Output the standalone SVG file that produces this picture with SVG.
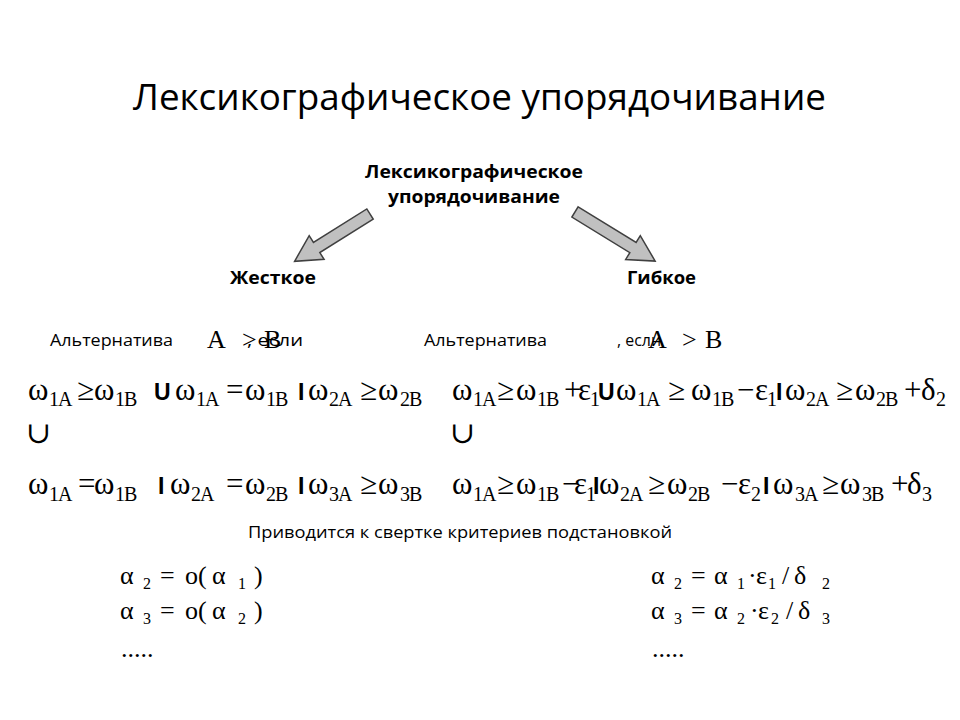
<svg xmlns="http://www.w3.org/2000/svg" width="960" height="720" viewBox="0 0 960 720">
<style>
.t{font-family:"Open Sans","Liberation Sans",sans-serif;fill:#000}
.b{font-weight:bold;font-size:18px}
.n{font-size:16px}
.m{font-family:"Liberation Serif","Times New Roman",serif;font-size:31px;fill:#000}
.s{font-size:20px;letter-spacing:-1px}
.u{font-family:"Liberation Sans",Arial,sans-serif;font-size:23px;font-weight:bold}
.cup{font-family:"DejaVu Serif","DejaVu Sans",serif;font-size:30px;fill:#000}
.a{font-family:"Liberation Serif","Times New Roman",serif;font-size:26px;fill:#000}
.as{font-size:16px}
.arr{fill:#c0c0c0;stroke:#404040;stroke-width:1.5;stroke-linejoin:miter}
</style>
<rect width="960" height="720" fill="#fff"/>
<g id="title"><text class="t" x="133" y="110" font-size="36" textLength="693" lengthAdjust="spacingAndGlyphs">Лексикографическое упорядочивание</text></g>
<g id="root">
<text class="t b" x="365" y="178" textLength="218" lengthAdjust="spacingAndGlyphs">Лексикографическое</text>
<text class="t b" x="388" y="203" textLength="172" lengthAdjust="spacingAndGlyphs">упорядочивание</text>
</g>
<g id="hard"><text class="t b" x="230" y="284" textLength="86" lengthAdjust="spacingAndGlyphs">Жесткое</text></g>
<g id="flexible"><text class="t b" x="627" y="284" textLength="69" lengthAdjust="spacingAndGlyphs">Гибкое</text></g>
<g id="connectors">
<polygon class="arr" transform="translate(370,214) rotate(147.9)" points="0,-6 63,-6 63,-14 89,0 63,14 63,6 0,6"/>
<polygon class="arr" transform="translate(575,212) rotate(31.5)" points="0,-6 68,-6 68,-14 94,0 68,14 68,6 0,6"/>
</g>
<g id="alt-left">
<text class="t n" x="50" y="346" textLength="123" lengthAdjust="spacingAndGlyphs">Альтернатива</text>
<text class="a" y="348" font-size="26"><tspan x="207">A</tspan><tspan x="242">&gt;</tspan><tspan x="264">B</tspan></text>
<text class="t n" x="247" y="346" textLength="56" lengthAdjust="spacingAndGlyphs">, если</text>
</g>
<g id="alt-right">
<text class="t n" x="424" y="346" textLength="123" lengthAdjust="spacingAndGlyphs">Альтернатива</text>
<text class="t n" x="617" y="346" textLength="44" lengthAdjust="spacingAndGlyphs">, если</text>
<text class="a" y="348" font-size="26"><tspan x="648">A</tspan><tspan x="682">&gt;</tspan><tspan x="705">B</tspan></text>
</g>
<g id="formula-left">
<text class="m"><tspan x="28" y="400">ω</tspan><tspan class="s" x="49" y="406">1A</tspan><tspan x="77" y="400">≥</tspan><tspan x="94" y="400">ω</tspan><tspan class="s" x="115" y="406">1B</tspan><tspan class="u" x="154" y="400">U</tspan><tspan x="175" y="400">ω</tspan><tspan class="s" x="196" y="406">1A</tspan><tspan x="226" y="400">=</tspan><tspan x="245" y="400">ω</tspan><tspan class="s" x="266" y="406">1B</tspan><tspan class="u" x="298" y="400">I</tspan><tspan x="308" y="400">ω</tspan><tspan class="s" x="329" y="406">2A</tspan><tspan x="360" y="400">≥</tspan><tspan x="378" y="400">ω</tspan><tspan class="s" x="400" y="406">2B</tspan></text>
<text class="cup" x="26" y="443">∪</text>
<text class="m"><tspan x="28" y="494">ω</tspan><tspan class="s" x="49" y="501">1A</tspan><tspan x="78" y="494">=</tspan><tspan x="94" y="494">ω</tspan><tspan class="s" x="115" y="501">1B</tspan><tspan class="u" x="158" y="494">I</tspan><tspan x="170" y="494">ω</tspan><tspan class="s" x="191" y="501">2A</tspan><tspan x="226" y="494">=</tspan><tspan x="245" y="494">ω</tspan><tspan class="s" x="266" y="501">2B</tspan><tspan class="u" x="298" y="494">I</tspan><tspan x="308" y="494">ω</tspan><tspan class="s" x="329" y="501">3A</tspan><tspan x="360" y="494">≥</tspan><tspan x="378" y="494">ω</tspan><tspan class="s" x="400" y="501">3B</tspan></text>
</g>
<g id="formula-right">
<text class="m"><tspan x="452" y="400">ω</tspan><tspan class="s" x="473" y="406">1A</tspan><tspan x="497" y="400">≥</tspan><tspan x="516" y="400">ω</tspan><tspan class="s" x="537" y="406">1B</tspan><tspan x="564" y="400">+</tspan><tspan x="578" y="400">ε</tspan><tspan class="s" x="590" y="406">1</tspan><tspan class="u" x="598" y="400">U</tspan><tspan x="616" y="400">ω</tspan><tspan class="s" x="637" y="406">1A</tspan><tspan x="668" y="400">≥</tspan><tspan x="691" y="400">ω</tspan><tspan class="s" x="712" y="406">1B</tspan><tspan x="737" y="400">−</tspan><tspan x="755" y="400">ε</tspan><tspan class="s" x="767" y="406">1</tspan><tspan class="u" x="776" y="400">I</tspan><tspan x="785" y="400">ω</tspan><tspan class="s" x="806" y="406">2A</tspan><tspan x="836" y="400">≥</tspan><tspan x="855" y="400">ω</tspan><tspan class="s" x="876" y="406">2B</tspan><tspan x="904" y="400">+</tspan><tspan x="921" y="400">δ</tspan><tspan class="s" x="936" y="406">2</tspan></text>
<text class="cup" x="450" y="443">∪</text>
<text class="m"><tspan x="452" y="494">ω</tspan><tspan class="s" x="473" y="501">1A</tspan><tspan x="497" y="494">≥</tspan><tspan x="516" y="494">ω</tspan><tspan class="s" x="537" y="501">1B</tspan><tspan x="562" y="494">−</tspan><tspan x="574" y="494">ε</tspan><tspan class="s" x="586" y="501">1</tspan><tspan class="u" x="593" y="494">I</tspan><tspan x="599" y="494">ω</tspan><tspan class="s" x="620" y="501">2A</tspan><tspan x="648" y="494">≥</tspan><tspan x="667" y="494">ω</tspan><tspan class="s" x="688" y="501">2B</tspan><tspan x="721" y="494">−</tspan><tspan x="738" y="494">ε</tspan><tspan class="s" x="751" y="501">2</tspan><tspan class="u" x="763" y="494">I</tspan><tspan x="773" y="494">ω</tspan><tspan class="s" x="795" y="501">3A</tspan><tspan x="822" y="494">≥</tspan><tspan x="840" y="494">ω</tspan><tspan class="s" x="862" y="501">3B</tspan><tspan x="891" y="494">+</tspan><tspan x="907" y="494">δ</tspan><tspan class="s" x="922" y="501">3</tspan></text>
</g>
<g id="note"><text class="t n" x="248" y="538" textLength="424" lengthAdjust="spacingAndGlyphs">Приводится к свертке критериев подстановкой</text></g>
<g id="subst-left">
<text class="a"><tspan x="120" y="584">α</tspan><tspan class="as" x="143" y="589">2</tspan><tspan x="160" y="584">=</tspan><tspan x="185" y="584">o(</tspan><tspan x="212" y="584">α</tspan><tspan class="as" x="238" y="589">1</tspan><tspan x="254" y="584">)</tspan></text>
<text class="a"><tspan x="120" y="619">α</tspan><tspan class="as" x="143" y="624">3</tspan><tspan x="160" y="619">=</tspan><tspan x="185" y="619">o(</tspan><tspan x="212" y="619">α</tspan><tspan class="as" x="238" y="624">2</tspan><tspan x="254" y="619">)</tspan></text>
<text class="a" x="121" y="657" font-size="16">.....</text>
</g>
<g id="subst-right">
<text class="a"><tspan x="651" y="584">α</tspan><tspan class="as" x="674" y="589">2</tspan><tspan x="691" y="584">=</tspan><tspan x="714" y="584">α</tspan><tspan class="as" x="737" y="589">1</tspan><tspan x="748" y="584">·</tspan><tspan x="756" y="584">ε</tspan><tspan class="as" x="768" y="589">1</tspan><tspan x="782" y="584">/</tspan><tspan x="794" y="584">δ</tspan><tspan class="as" x="822" y="589">2</tspan></text>
<text class="a"><tspan x="651" y="619">α</tspan><tspan class="as" x="674" y="624">3</tspan><tspan x="691" y="619">=</tspan><tspan x="714" y="619">α</tspan><tspan class="as" x="737" y="624">2</tspan><tspan x="750" y="619">·</tspan><tspan x="758" y="619">ε</tspan><tspan class="as" x="771" y="624">2</tspan><tspan x="786" y="619">/</tspan><tspan x="798" y="619">δ</tspan><tspan class="as" x="822" y="624">3</tspan></text>
<text class="a" x="652" y="657" font-size="16">.....</text>
</g>
</svg>
